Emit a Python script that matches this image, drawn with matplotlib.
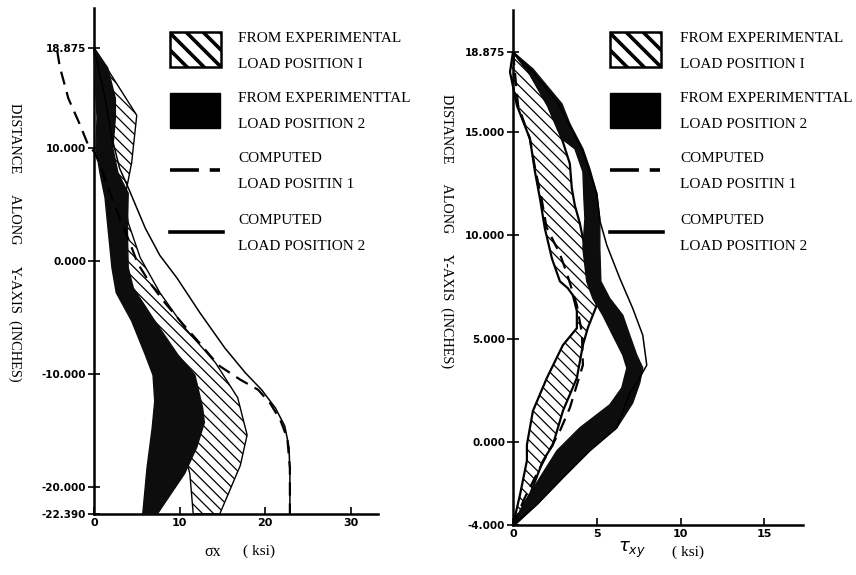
import numpy as np
import matplotlib
matplotlib.use('Agg')
import matplotlib.pyplot as plt
from matplotlib.patches import Polygon, Rectangle

W, H = 856, 575
SERIF = 'Liberation Serif'

plt.rcParams['hatch.linewidth'] = 0.9
plt.rcParams['hatch.color'] = 'black'
plt.rcParams['mathtext.fontset'] = 'dejavusans'

# ---- sigma_x along the y-axis (ksi vs inches) ----
# experimental envelope, load position 1 (hatched)
sx_exp1_stress = [0, 5.0, 4.4, 3.6, 4.0, 5.4, 7.7, 10.6, 14.2, 16.8, 17.9, 17.1, 14.7,
                  11.6, 11.2, 10.1, 8.3, 6.5, 3.6, 1.9, 0.7, 0]
sx_exp1_y = [18.875, 12.9, 8.7, 5.6, 3.4, 0.3, -2.8, -5.9, -9.0, -12.1, -15.4, -18.1, -22.39,
             -22.39, -18.8, -15.7, -12.1, -8.6, -3.3, 2.9, 10.0, 18.875]
# experimental envelope, load position 2 (solid black)
sx_exp2_stress = [0, 0.12, 0.35, 0.23, 0.7, 1.29, 1.64, 2.1, 2.6, 4.4, 6.0, 6.9, 7.1, 6.8, 6.2, 5.7,
                  7.4, 8.9, 10.6, 12.0, 12.9, 12.7, 11.8, 9.8, 7.1, 4.6, 4.0, 3.9, 4.0, 2.8, 2.2,
                  2.5, 2.5, 1.6, 0]
sx_exp2_y = [18.875, 16.2, 12.7, 10.0, 7.8, 5.6, 2.9, -0.6, -2.8, -5.3, -8.3, -10.1, -12.4, -14.8,
             -18.3, -22.39, -22.39, -20.7, -18.8, -16.5, -14.3, -13.0, -10.1, -8.3, -5.3, -2.4,
             -0.6, 2.9, 6.0, 7.8, 10.0, 12.7, 14.4, 17.1, 18.875]
# computed, load position 1 (dashed)
sx_comp1_stress = [-4.3, -4.0, -3.5, -3.0, -2.3, -1.6, -0.7, 0.1, 0.9, 1.9, 3.0, 4.2, 5.1, 6.5,
                   8.3, 10.3, 12.4, 14.5, 17.1, 19.2, 20.6, 21.8, 22.6, 22.9, 22.9]
sx_comp1_y = [18.6, 17.2, 15.8, 14.4, 13.2, 12.0, 10.3, 9.6, 8.1, 6.0, 3.8, 1.6, -0.2, -1.9,
              -3.7, -5.5, -7.3, -9.2, -10.5, -11.4, -12.6, -14.1, -15.7, -18.3, -22.39]
# computed, load position 2 (solid)
sx_comp2_stress = [0, 1.3, 2.1, 3.0, 4.0, 6.0, 7.7, 9.7, 12.4, 15.3, 17.7, 19.6, 21.2, 22.3,
                   22.8, 22.9, 22.9]
sx_comp2_y = [18.875, 14.4, 10.9, 8.2, 6.5, 2.9, 0.5, -1.5, -4.6, -7.7, -9.9, -11.4, -13.0,
              -14.6, -16.5, -18.8, -22.39]

sx_yticks = [18.875, 10.0, 0.0, -10.0, -20.0, -22.39]
sx_yticklabels = ['18.875', '10.000', '0.000', '-10.000', '-20.000', '-22.390']
sx_xticks = [0, 10, 20, 30]

# ---- tau_xy along the y-axis ----
txy_exp1_stress = [0, 1.01, 2.08, 2.92, 3.39, 3.51, 3.69, 3.99, 4.29, 4.58, 5.0, 4.76, 4.46, 4.17,
                   3.81, 2.98, 2.38, 1.79, 1.01, 0, 0.42, 0.83, 0.83, 1.19, 2.02, 2.98, 3.81, 3.81,
                   3.57, 3.27, 2.8, 2.32, 1.9, 1.61, 1.31, 1.01, 0.24, -0.18, 0]
txy_exp1_y = [18.875, 17.81, 16.27, 14.67, 13.47, 12.27, 11.45, 10.58, 9.37, 7.78, 6.63, 6.14, 5.52,
              4.7, 3.11, 1.52, -0.12, -0.89, -2.53, -4.0, -2.53, -0.89, -0.12, 1.52, 3.11, 4.7,
              5.52, 6.34, 7.11, 7.45, 7.78, 8.89, 10.34, 11.78, 13.08, 14.67, 16.27, 17.9, 18.875]
txy_exp2_stress = [0, 1.19, 2.92, 3.39, 4.17, 4.58, 5.0, 5.18, 5.18, 5.24, 5.77, 6.55, 6.96, 7.38,
                   7.74, 7.56, 7.14, 6.19, 4.58, 2.98, 1.43, 0.12, 0, 0.6, 1.61, 2.62, 3.99, 5.77,
                   6.49, 6.79, 6.55, 5.95, 5.36, 4.76, 4.4, 4.17, 4.29, 4.23, 4.17, 3.69, 2.92,
                   2.08, 1.01, 0]
txy_exp2_y = [18.875, 18.05, 16.36, 15.4, 14.19, 13.23, 12.02, 10.82, 9.37, 7.78, 6.96, 6.14, 5.18,
              4.22, 3.59, 2.87, 1.9, 0.7, -0.41, -1.71, -3.01, -4.0, -4.0, -3.01, -1.71, -0.41,
              0.7, 1.81, 2.63, 3.59, 4.22, 5.18, 6.14, 6.96, 7.78, 9.37, 10.82, 11.78, 13.08,
              14.19, 14.67, 16.27, 17.81, 18.875]
txy_comp1_stress = [0, 0.3, 1.0, 1.35, 1.7, 2.0, 2.8, 3.21, 3.81, 4.11, 4.17, 3.39, 2.8, 1.61,
                    0.71, 0]
txy_comp1_y = [18.875, 16.3, 14.7, 13.1, 11.8, 10.4, 9.1, 8.17, 6.63, 5.28, 3.73, 1.66, 0.55,
               -1.23, -2.67, -4.0]
txy_comp2_stress = [0, 1.19, 2.62, 3.39, 4.17, 4.58, 5.0, 5.18, 5.6, 6.37, 7.14, 7.74, 7.98, 7.38,
                    6.96, 6.19, 4.58, 2.98, 1.43, 0]
txy_comp2_y = [18.875, 17.9, 16.46, 15.3, 14.05, 13.08, 12.02, 10.72, 9.52, 7.93, 6.48, 5.18,
               3.73, 2.87, 2.39, 0.7, -0.41, -1.71, -3.01, -4.0]

txy_yticks = [18.875, 15.0, 10.0, 5.0, 0.0, -4.0]
txy_yticklabels = ['18.875', '15.000', '10.000', '5.000', '0.000', '-4.000']
txy_xticks = [0, 5, 10, 15]

legend_labels = [
    ('FROM EXPERIMENTAL', 'LOAD POSITION I'),
    ('FROM EXPERIMENTTAL', 'LOAD POSITION 2'),
    ('COMPUTED', 'LOAD POSITIN 1'),
    ('COMPUTED', 'LOAD POSITION 2'),
]
ylabel_text = 'DISTANCE      ALONG      Y-AXIS  (INCHES)'

fig = plt.figure(figsize=(W / 100, H / 100), dpi=100)


def px_axes(left, top, right, bottom):
    return fig.add_axes([left / W, 1 - bottom / H, (right - left) / W, (bottom - top) / H])


def draw_panel(ax, exp1, exp2, comp1, comp2, edge_lw):
    ax.add_patch(Polygon(np.column_stack(exp1), closed=True, facecolor='white',
                         edgecolor='black', hatch='\\\\\\', lw=edge_lw, clip_on=False, zorder=2))
    ax.add_patch(Polygon(np.column_stack(exp2), closed=True, facecolor='#0d0d0d',
                         edgecolor='#0d0d0d', lw=1.0, clip_on=False, zorder=3))
    ax.plot(*comp1, color='black', lw=1.6, dashes=(6, 3.5), clip_on=False, zorder=4)
    ax.plot(*comp2, color='black', lw=1.1, clip_on=False, zorder=4)


def style_axes(ax, xticks, yticks, yticklabels):
    ax.patch.set_visible(False)
    ax.spines[['top', 'right']].set_visible(False)
    ax.spines[['left', 'bottom']].set_linewidth(1.8)
    ax.set_xticks(xticks)
    ax.set_xticklabels([str(t) for t in xticks], fontweight='bold', fontsize=8)
    ax.set_yticks(yticks)
    ax.set_yticklabels(yticklabels, fontweight='bold', fontsize=7.5)
    ax.tick_params(axis='y', direction='inout', length=9, width=1.2, pad=1)
    ax.tick_params(axis='x', direction='in', length=5, width=1.2, pad=3)


ax1 = px_axes(94, 8, 378, 514)
draw_panel(ax1, (sx_exp1_stress, sx_exp1_y), (sx_exp2_stress, sx_exp2_y),
           (sx_comp1_stress, sx_comp1_y), (sx_comp2_stress, sx_comp2_y), 1.0)
ax1.set_xlim(0, 33.2)
ax1.set_ylim(-22.39, 22.4)
style_axes(ax1, sx_xticks, sx_yticks, sx_yticklabels)

ax2 = px_axes(513, 10, 803, 525)
draw_panel(ax2, (txy_exp1_stress, txy_exp1_y), (txy_exp2_stress, txy_exp2_y),
           (txy_comp1_stress, txy_comp1_y), (txy_comp2_stress, txy_comp2_y), 1.6)
ax2.set_xlim(0, 17.3)
ax2.set_ylim(-4.0, 20.9)
style_axes(ax2, txy_xticks, txy_yticks, txy_yticklabels)

# overlay in pixel units for the legends and free labels
ov = fig.add_axes([0, 0, 1, 1])
ov.set_xlim(0, W)
ov.set_ylim(H, 0)
ov.axis('off')


def draw_legend(x0, text_x):
    box = Rectangle((x0, 32), 51, 35, facecolor='white', edgecolor='black', lw=1.8)
    ov.add_patch(box)
    for off in np.arange(-35, 55, 17):
        ln, = ov.plot([x0 + off, x0 + off + 35], [32, 67], color='black', lw=2.6)
        ln.set_clip_path(box)
    ov.add_patch(Rectangle((x0, 93), 50, 35, facecolor='black', edgecolor='black'))
    ov.plot([x0, x0 + 50], [170, 170], color='black', lw=2.6, dashes=(8, 3))
    ov.plot([x0, x0 + 53], [232, 232], color='black', lw=2.6)
    rows = [(38, 64), (98, 124), (158, 184), (221, 247)]
    for (l1, l2), (y1, y2) in zip(legend_labels, rows):
        ov.text(text_x, y1, l1, family=SERIF, fontsize=11, va='center', ha='left')
        ov.text(text_x, y2, l2, family=SERIF, fontsize=11, va='center', ha='left')


draw_legend(170, 238)
draw_legend(610, 680)

ov.text(15, 242, ylabel_text, rotation=270, family=SERIF, fontsize=10.4, ha='center', va='center')
ov.text(447, 231, ylabel_text, rotation=270, family=SERIF, fontsize=10.2, ha='center', va='center')

ov.text(213, 552, '\u03c3x', family=SERIF, fontsize=11.5, ha='center', va='center')
ov.text(259, 551, '( ksi)', family=SERIF, fontsize=11, ha='center', va='center')
ov.text(632, 550, r'$\tau_{xy}$', fontsize=13, ha='center', va='center')
ov.text(688, 552, '( ksi)', family=SERIF, fontsize=11, ha='center', va='center')

fig.savefig('out.png', dpi=100)
